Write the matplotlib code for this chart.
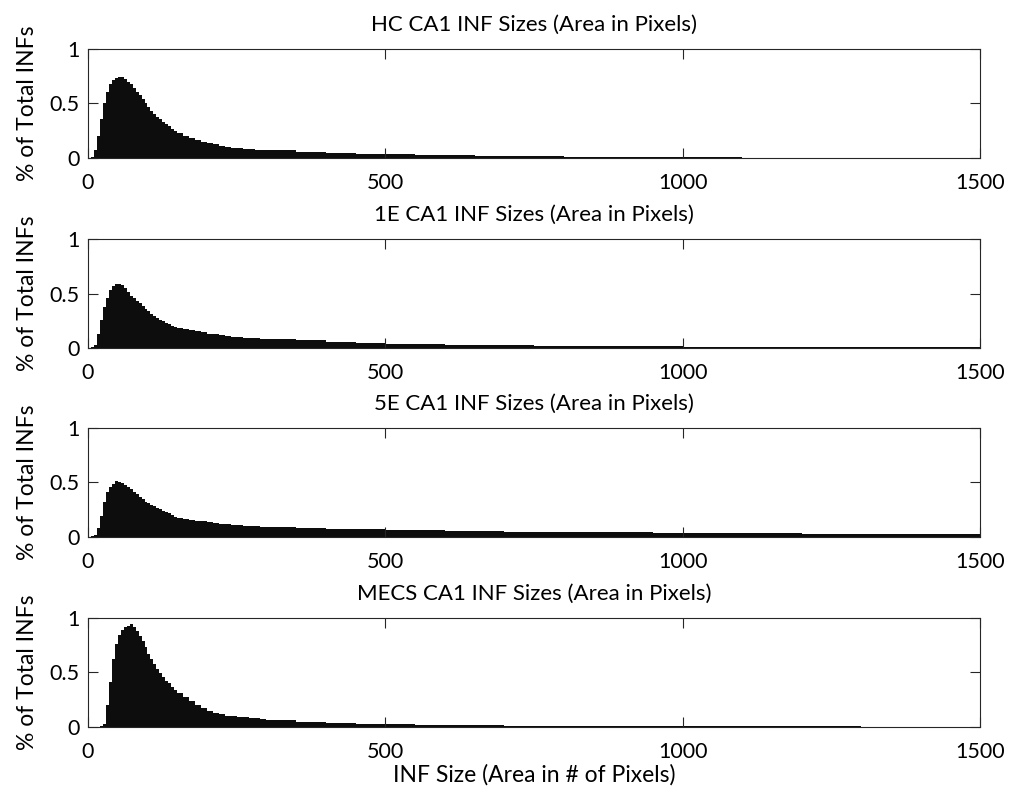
import numpy as np
from matplotlib import pyplot as plt

plt.rcParams['font.family'] = ['Lato', 'DejaVu Sans']

# Bin edges (area in pixels): fine near the peak, coarser in the tail
bin_edges = ([0, 5, 10, 15, 20, 25, 30, 35, 40, 45, 50, 55, 60, 65, 70, 75,
              80, 85, 90, 95, 100, 105, 110, 115, 120, 125, 130, 135, 140, 145, 150]
             + [160, 170, 180, 190, 200, 210, 220, 230, 240, 250, 260, 270, 280, 290, 300]
             + [350, 400, 450, 500, 550, 600, 650, 700, 750, 800, 850, 900, 950, 1000,
                1050, 1100, 1150, 1200, 1250, 1300, 1350, 1400, 1450, 1500])

# % of total INFs in each bin
hc_vals = [0, 0.01, 0.07, 0.20, 0.36, 0.50, 0.61, 0.68, 0.72, 0.735,
           0.745, 0.74, 0.725, 0.70, 0.675, 0.645, 0.61, 0.575, 0.54, 0.505,
           0.465, 0.435, 0.405, 0.38, 0.355, 0.33, 0.31, 0.29, 0.27, 0.25,
           0.226, 0.205, 0.185, 0.165, 0.15, 0.135, 0.125, 0.113, 0.103, 0.096,
           0.091, 0.086, 0.082, 0.078, 0.075,
           0.07, 0.058, 0.048, 0.041, 0.034, 0.028, 0.024, 0.02, 0.017, 0.014,
           0.012, 0.01, 0.008, 0.007, 0.006, 0.005, 0.004, 0.004, 0.003, 0.003,
           0.003, 0.002, 0.002, 0.002]
e1_vals = [0, 0.005, 0.03, 0.13, 0.26, 0.38, 0.46, 0.53, 0.565, 0.585,
           0.59, 0.575, 0.55, 0.515, 0.48, 0.455, 0.43, 0.41, 0.385, 0.36,
           0.335, 0.315, 0.295, 0.275, 0.26, 0.245, 0.23, 0.218, 0.205, 0.195,
           0.184, 0.172, 0.162, 0.152, 0.143, 0.132, 0.124, 0.117, 0.11, 0.104,
           0.1, 0.096, 0.092, 0.089, 0.086,
           0.08, 0.07, 0.055, 0.047, 0.04, 0.036, 0.032, 0.028, 0.025, 0.022,
           0.02, 0.018, 0.016, 0.014, 0.012, 0.011, 0.01, 0.009, 0.008, 0.007,
           0.006, 0.006, 0.005, 0.005]
e5_vals = [0, 0.005, 0.02, 0.08, 0.19, 0.32, 0.41, 0.46, 0.49, 0.51,
           0.505, 0.495, 0.48, 0.46, 0.44, 0.415, 0.39, 0.365, 0.345, 0.325,
           0.31, 0.295, 0.28, 0.268, 0.255, 0.242, 0.23, 0.217, 0.2, 0.185,
           0.174, 0.165, 0.157, 0.15, 0.143, 0.133, 0.126, 0.12, 0.115, 0.11,
           0.107, 0.104, 0.101, 0.098, 0.095,
           0.09, 0.083, 0.077, 0.069, 0.064, 0.06, 0.056, 0.053, 0.05, 0.048,
           0.046, 0.044, 0.042, 0.04, 0.038, 0.036, 0.034, 0.033, 0.031, 0.03,
           0.028, 0.027, 0.025, 0.024]
mecs_vals = [0, 0, 0.002, 0.004, 0.01, 0.03, 0.2, 0.41, 0.62, 0.76,
             0.84, 0.89, 0.92, 0.93, 0.945, 0.92, 0.88, 0.835, 0.785, 0.73,
             0.67, 0.62, 0.575, 0.535, 0.495, 0.46, 0.42, 0.4, 0.37, 0.34,
             0.31, 0.275, 0.235, 0.2, 0.175, 0.15, 0.13, 0.117, 0.105, 0.098,
             0.093, 0.088, 0.084, 0.078, 0.072,
             0.064, 0.045, 0.037, 0.029, 0.024, 0.02, 0.017, 0.015, 0.013, 0.011,
             0.01, 0.009, 0.008, 0.008, 0.007, 0.006, 0.006, 0.005, 0.005, 0.005,
             0.004, 0.004, 0.004, 0.004]

titles = ["HC CA1 INF Sizes (Area in Pixels)", "1E CA1 INF Sizes (Area in Pixels)",
          "5E CA1 INF Sizes (Area in Pixels)", "MECS CA1 INF Sizes (Area in Pixels)"]
series = [hc_vals, e1_vals, e5_vals, mecs_vals]
x_ticks = [0, 500, 1000, 1500]
y_ticks = [0, 0.5, 1]

fig = plt.figure(figsize=(10.13, 7.94), dpi=100)
bottoms = [0.801, 0.5617, 0.3237, 0.0844]
ax_col = (0.15, 0.15, 0.15)

for i in range(4):
    ax = fig.add_axes([0.0869, bottoms[i], 0.8805, 0.1373])
    ax.stairs(series[i], bin_edges, fill=True, color=(0.05, 0.05, 0.05), linewidth=0)
    ax.set_xlim(0, 1500)
    ax.set_ylim(0, 1)
    ax.set_xticks(x_ticks)
    ax.set_yticks(y_ticks)
    ax.set_yticklabels(["0", "0.5", "1"])
    ax.tick_params(direction='in', length=7, width=0.8, color=ax_col,
                   top=True, right=True, labelsize=15.5)
    ax.tick_params(axis='x', pad=11)
    ax.tick_params(axis='y', pad=6)
    for s in ax.spines.values():
        s.set_color(ax_col)
        s.set_linewidth(0.8)
    ax.set_title(titles[i], fontsize=16, pad=13)
    ax.set_ylabel("% of Total INFs", fontsize=16.5, labelpad=8)
    if i == 3:
        ax.set_xlabel("INF Size (Area in # of Pixels)", fontsize=16.5, labelpad=1)

fig.savefig("out.png", dpi=100)
